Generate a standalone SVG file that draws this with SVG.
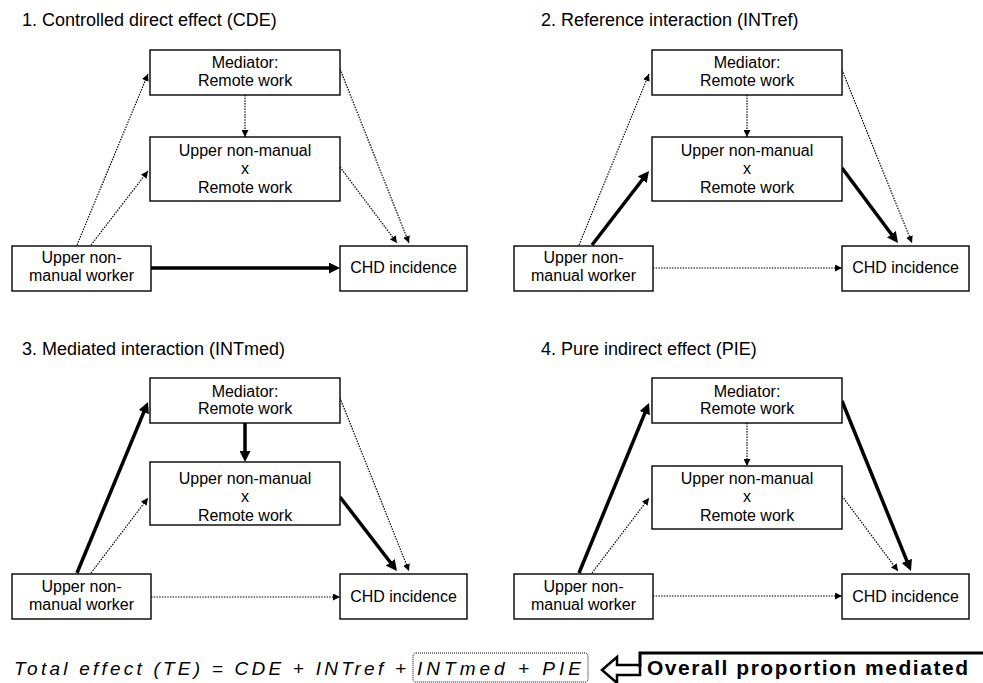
<svg xmlns="http://www.w3.org/2000/svg" width="983" height="683" viewBox="0 0 983 683">
<style>
.bg{fill:#fff}
.box{fill:#fff;stroke:#000;stroke-width:1.4}
.t{font-family:"Liberation Sans",Arial,sans-serif;font-size:16px;fill:#000;text-anchor:middle}
.title{font-family:"Liberation Sans",Arial,sans-serif;font-size:18px;fill:#000}
.dot{fill:none;stroke:#000;stroke-width:1.2;stroke-dasharray:1.5 1.2;marker-end:url(#ahs)}
.thick{fill:none;stroke:#000;stroke-width:3.5;marker-end:url(#ahb)}
.formula{font-family:"Liberation Sans",Arial,sans-serif;font-size:19px;font-style:italic;fill:#000}
</style>
<defs>
<marker id="ahs" viewBox="0 0 7 7" refX="7" refY="3.5" markerWidth="7" markerHeight="7" markerUnits="userSpaceOnUse" orient="auto">
<path d="M0,0 L7,3.5 L0,7 Z" fill="#000"/>
</marker>
<marker id="ahb" viewBox="0 0 11 11" refX="6" refY="5.5" markerWidth="11" markerHeight="11" markerUnits="userSpaceOnUse" orient="auto">
<path d="M0,0 L11,5.5 L0,11 Z" fill="#000"/>
</marker>
</defs>
<rect class="bg" x="0" y="0" width="983" height="683"/>

<text class="title" x="22" y="26">1. Controlled direct effect (CDE)</text>
<text class="title" x="541" y="26">2. Reference interaction (INTref)</text>
<text class="title" x="22" y="355">3. Mediated interaction (INTmed)</text>
<text class="title" x="541" y="355">4. Pure indirect effect (PIE)</text>

<g id="connectors">
<!-- panel 1 -->
<line class="dot" x1="77" y1="245" x2="148" y2="74"/>
<line class="dot" x1="91" y1="245" x2="148" y2="171"/>
<line class="dot" x1="245" y1="95" x2="245" y2="137"/>
<line class="dot" x1="340" y1="69" x2="409" y2="243"/>
<line class="dot" x1="340" y1="167" x2="397" y2="243"/>
<line class="thick" x1="151" y1="268" x2="335" y2="268"/>
<!-- panel 2 -->
<line class="dot" x1="579" y1="245" x2="649" y2="74"/>
<line class="thick" x1="592" y1="245" x2="645.95" y2="174.96"/>
<line class="dot" x1="747" y1="95" x2="747" y2="137"/>
<line class="dot" x1="842" y1="70" x2="912" y2="243"/>
<line class="thick" x1="842" y1="168" x2="895" y2="239"/>
<line class="dot" x1="653" y1="268" x2="842" y2="268"/>
<!-- panel 3 -->
<line class="thick" x1="77" y1="573" x2="146.08" y2="406.62"/>
<line class="dot" x1="91" y1="573" x2="148" y2="498"/>
<line class="thick" x1="245" y1="423" x2="245" y2="457"/>
<line class="dot" x1="340" y1="398" x2="409" y2="571"/>
<line class="thick" x1="340" y1="497" x2="393.95" y2="567.04"/>
<line class="dot" x1="151" y1="597" x2="340" y2="597"/>
<!-- panel 4 -->
<line class="thick" x1="579" y1="573" x2="647.1" y2="407.6"/>
<line class="dot" x1="592" y1="573" x2="649" y2="498"/>
<line class="dot" x1="747" y1="423" x2="747" y2="466"/>
<line class="thick" x1="842" y1="401" x2="909.1" y2="566.4"/>
<line class="dot" x1="842" y1="496" x2="898" y2="571"/>
<line class="dot" x1="653" y1="596" x2="842" y2="596"/>
</g>

<!-- Panel 1 nodes -->
<g id="p1-mediator"><rect class="box" x="150" y="50" width="190" height="45"/><text class="t" x="245" y="68">Mediator:</text><text class="t" x="245" y="86">Remote work</text></g>
<g id="p1-interaction"><rect class="box" x="150" y="137" width="190" height="64"/><text class="t" x="245" y="156">Upper non-manual</text><text class="t" x="245" y="174">x</text><text class="t" x="245" y="193">Remote work</text></g>
<g id="p1-exposure"><rect class="box" x="12" y="246" width="139" height="45"/><text class="t" x="81.5" y="263">Upper non-</text><text class="t" x="81.5" y="281">manual worker</text></g>
<g id="p1-outcome"><rect class="box" x="340" y="246" width="127" height="45"/><text class="t" x="403.5" y="273">CHD incidence</text></g>

<!-- Panel 2 nodes -->
<g id="p2-mediator"><rect class="box" x="652" y="50" width="190" height="45"/><text class="t" x="747" y="68">Mediator:</text><text class="t" x="747" y="86">Remote work</text></g>
<g id="p2-interaction"><rect class="box" x="652" y="137" width="190" height="64"/><text class="t" x="747" y="156">Upper non-manual</text><text class="t" x="747" y="174">x</text><text class="t" x="747" y="193">Remote work</text></g>
<g id="p2-exposure"><rect class="box" x="514" y="246" width="139" height="45"/><text class="t" x="583.5" y="263">Upper non-</text><text class="t" x="583.5" y="281">manual worker</text></g>
<g id="p2-outcome"><rect class="box" x="842" y="246" width="127" height="45"/><text class="t" x="905.5" y="273">CHD incidence</text></g>

<!-- Panel 3 nodes -->
<g id="p3-mediator"><rect class="box" x="150" y="378" width="190" height="45"/><text class="t" x="245" y="397">Mediator:</text><text class="t" x="245" y="414">Remote work</text></g>
<g id="p3-interaction"><rect class="box" x="150" y="462" width="190" height="63"/><text class="t" x="245" y="484">Upper non-manual</text><text class="t" x="245" y="502">x</text><text class="t" x="245" y="521">Remote work</text></g>
<g id="p3-exposure"><rect class="box" x="12" y="574" width="139" height="45"/><text class="t" x="81.5" y="592">Upper non-</text><text class="t" x="81.5" y="610">manual worker</text></g>
<g id="p3-outcome"><rect class="box" x="340" y="574" width="127" height="45"/><text class="t" x="403.5" y="602">CHD incidence</text></g>

<!-- Panel 4 nodes -->
<g id="p4-mediator"><rect class="box" x="652" y="378" width="190" height="45"/><text class="t" x="747" y="397">Mediator:</text><text class="t" x="747" y="414">Remote work</text></g>
<g id="p4-interaction"><rect class="box" x="652" y="466" width="190" height="63"/><text class="t" x="747" y="484">Upper non-manual</text><text class="t" x="747" y="502">x</text><text class="t" x="747" y="521">Remote work</text></g>
<g id="p4-exposure"><rect class="box" x="514" y="574" width="139" height="45"/><text class="t" x="583.5" y="592">Upper non-</text><text class="t" x="583.5" y="610">manual worker</text></g>
<g id="p4-outcome"><rect class="box" x="842" y="574" width="127" height="45"/><text class="t" x="905.5" y="602">CHD incidence</text></g>

<!-- Formula -->
<g id="formula">
<text class="formula" x="14" y="675" textLength="392" lengthAdjust="spacing">Total effect (TE) = CDE + INTref +</text>
<rect x="413" y="653" width="175" height="29" rx="3" fill="none" stroke="#000" stroke-width="1" stroke-dasharray="1 1"/>
<text class="formula" x="417" y="675" textLength="164" lengthAdjust="spacing">INTmed + PIE</text>
</g>

<g id="proportion-mediated">
<path d="M602,670 L617,657 L617,665 L640,665 L640,675 L617,675 L617,683 Z" fill="#fff" stroke="#000" stroke-width="2.5" stroke-linejoin="miter"/>
<path d="M640,667 L640,653 L983,653" fill="none" stroke="#000" stroke-width="3"/>
<text x="647" y="675" font-family="Liberation Sans, Arial, sans-serif" font-size="21" font-weight="bold" textLength="321" lengthAdjust="spacing">Overall proportion mediated</text>
</g>
</svg>
